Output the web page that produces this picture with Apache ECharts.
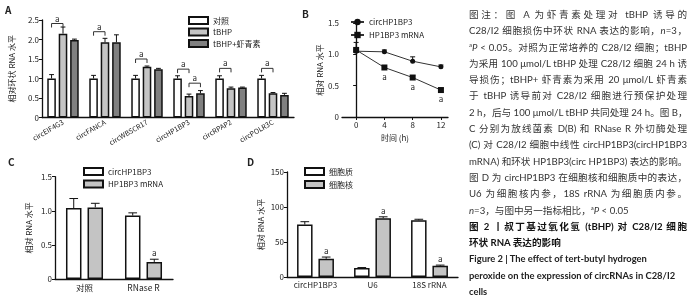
<!DOCTYPE html>
<html lang="zh">
<head>
<meta charset="utf-8">
<script src="https://cdn.jsdelivr.net/npm/echarts@6/dist/echarts.min.js"></script>
<style>
  html, body { margin: 0; padding: 0; background: #fff; }
  #wrap { position: relative; width: 692px; height: 300px; overflow: hidden; }
  #chart { position: absolute; left: 0; top: 0; width: 692px; height: 300px; }
  .cap { position: absolute; left: 469px; top: 7px; width: 218px; font-family: Lato, "Noto Sans CJK SC", sans-serif;
         font-size: 9.6px; line-height: 16.3px; color: #333; }
  .cap div { white-space: nowrap; }
  .cap .j { text-align: justify; text-align-last: justify; }
  .cap .t { color: #111; font-weight: bold; }
  .cap .e { color: #222; font-weight: bold; font-size: 9.4px; }
  .cap sup { font-size: 6px; line-height: 0; vertical-align: 4px; }
</style>
</head>
<body>
<div id="wrap">
  <div id="chart"></div>
  <div class="cap" lang="zh">
    <div class="j">图注：图 A 为虾青素处理对 tBHP 诱导的</div>
    <div class="j">C28/I2 细胞损伤中环状 RNA 表达的影响，<i>n</i>=3，</div>
    <div class="j"><sup>a</sup><i>P</i> &lt; 0.05。对照为正常培养的 C28/I2 细胞；tBHP</div>
    <div class="j">为采用 100 μmol/L tBHP 处理 C28/I2 细胞 24 h 诱</div>
    <div class="j">导损伤；tBHP+ 虾青素为采用 20 μmol/L 虾青素</div>
    <div class="j">于 tBHP 诱导前对 C28/I2 细胞进行预保护处理</div>
    <div class="j">2 h，后与 100 μmol/L tBHP 共同处理 24 h。图 B，</div>
    <div class="j">C 分别为放线菌素 D(B) 和 RNase R 外切酶处理</div>
    <div class="j">(C) 对 C28/I2 细胞中线性 circHP1BP3(circHP1BP3</div>
    <div class="j">mRNA) 和环状 HP1BP3(circ HP1BP3) 表达的影响。</div>
    <div class="j">图 D 为 circHP1BP3 在细胞核和细胞质中的表达，</div>
    <div class="j">U6 为细胞核内参，18S rRNA 为细胞质内参。</div>
    <div><i>n</i>=3，与图中另一指标相比，<sup>a</sup><i>P</i> &lt; 0.05</div>
    <div class="j t">图 2 丨叔丁基过氧化氢 (tBHP) 对 C28/I2 细胞</div>
    <div class="t">环状 RNA 表达的影响</div>
    <div class="e">Figure 2 | The effect of tert-butyl hydrogen</div>
    <div class="e">peroxide on the expression of circRNAs in C28/I2</div>
    <div class="e">cells</div>
  </div>
</div>
<script>
// panel A
const catsA = ['circEIF4G3', 'circFANCA', 'circWBSCR17', 'circHP1BP3', 'circRPAP2', 'circPOLR3C'];
const ctrlA = [1.0, 1.0, 1.0, 1.0, 1.0, 1.0];
const ctrlErrA = [0.10, 0.08, 0.08, 0.07, 0.07, 0.08];
const tbhpA = [2.15, 1.93, 1.30, 0.55, 0.75, 0.62];
const tbhpErrA = [0.17, 0.10, 0.02, 0.05, 0.03, 0.02];
const astaA = [1.99, 1.93, 1.24, 0.62, 0.77, 0.58];
const astaErrA = [0.02, 0.19, 0.02, 0.07, 0.01, 0.04];
// [category, from bar, to bar, height]
const bracketsA = [[0, 0, 1, 2.41], [1, 0, 1, 2.2], [2, 0, 1, 1.5], [3, 0, 1, 1.24], [3, 1, 2, 0.88], [4, 0, 1, 1.26], [5, 0, 1, 1.26]];

// panel B
const timeB = [0, 4, 8, 12];
const circB = [1.05, 1.04, 0.89, 0.80];
const circErrB = [0.03, 0.03, 0.07, 0.03];
const mrnaB = [1.07, 0.79, 0.63, 0.43];
const mrnaErrB = [0.12, 0.03, 0.03, 0.03];
const sigB = [false, true, true, true];

// panel C
const catsC = ['对照', 'RNase R'];
const circC = [1.04, 0.93];
const circErrC = [0.14, 0.04];
const mrnaC = [1.05, 0.25];
const mrnaErrC = [0.06, 0.04];
const sigC = [false, true];

// panel D
const catsD = ['circHP1BP3', 'U6', '18S rRNA'];
const cytoD = [75, 13, 81];
const cytoErrD = [4, 0.5, 1.5];
const nucD = [26, 84, 16];
const nucErrD = [2.5, 2, 1];
const sigD = [true, true, true];

const FONT = '"Noto Sans CJK SC", "Liberation Sans", sans-serif';
const INK = '#111';

const chart = echarts.init(document.getElementById('chart'), null, { renderer: 'canvas' });

function valAxis(grid, max, interval, name, gap) {
  return {
    type: 'value', gridIndex: grid, min: 0, max: max, interval: interval,
    name: name, nameLocation: 'middle', nameRotate: 90, nameGap: gap,
    nameTextStyle: { fontSize: 8, color: '#222', fontFamily: FONT },
    axisLine: { show: true, lineStyle: { color: INK, width: 1.3 } },
    axisTick: { show: true, length: 3, lineStyle: { color: INK, width: 1 } },
    axisLabel: { fontSize: 8, color: '#222', margin: 3, fontFamily: FONT,
      formatter: v => (v === 0 ? '0' : (interval < 1 ? v.toFixed(1) : String(v))) },
    splitLine: { show: false }
  };
}

function catAxis(grid, cats, extra) {
  return Object.assign({
    type: 'category', gridIndex: grid, data: cats,
    axisLine: { lineStyle: { color: INK, width: 1.3 } },
    axisTick: { alignWithLabel: true, length: 3, lineStyle: { color: INK } },
    axisLabel: { fontSize: 8, color: '#222', margin: 4, fontFamily: FONT, interval: 0 },
    splitLine: { show: false }
  }, extra || {});
}

// error bar (+ optional "a") drawn over grouped bars
function errSeries(name, grid, vals, errs, sigs, idx, n, barW, gapPx) {
  return {
    type: 'custom', name: name + '_err', xAxisIndex: grid, yAxisIndex: grid, z: 5, clip: false,
    data: vals.map((v, i) => [i, v, errs[i], sigs && sigs[i] ? 1 : 0]),
    encode: { x: 0, y: 1 },
    renderItem: function (params, api) {
      const base = api.coord([api.value(0), api.value(1)]);
      const top = api.coord([api.value(0), api.value(1) + api.value(2)]);
      const x = base[0] + (idx - (n - 1) / 2) * (barW + gapPx);
      const cap = Math.max(2, barW * 0.28);
      const kids = [
        { type: 'line', shape: { x1: x, y1: base[1], x2: x, y2: top[1] }, style: { stroke: INK, lineWidth: 1 } },
        { type: 'line', shape: { x1: x - cap, y1: top[1], x2: x + cap, y2: top[1] }, style: { stroke: INK, lineWidth: 1 } }
      ];
      if (api.value(3)) {
        kids.push({ type: 'text', x: x, y: top[1] - 2,
          style: { text: 'a', fill: '#222', font: '8px ' + FONT, align: 'center', verticalAlign: 'bottom' } });
      }
      return { type: 'group', children: kids };
    }
  };
}

function barSeries(name, grid, vals, color, barW, gap) {
  return {
    type: 'bar', name: name, xAxisIndex: grid, yAxisIndex: grid, data: vals,
    barWidth: barW, barGap: gap,
    itemStyle: { color: color, borderColor: INK, borderWidth: 1.5 }
  };
}

const BW_A = 8.6, GAP_A = 0.33;
const BW_C = 15.5, GAP_C = 0.39;
const BW_D = 15.5, GAP_D = 0.38;
const WHITE = '#ffffff', LIGHT = '#c4c4c4', DARK = '#808080';

const bracketSeries = {
  type: 'custom', name: 'bracketsA', xAxisIndex: 0, yAxisIndex: 0, z: 6, clip: false,
  data: bracketsA, encode: { x: 0, y: 3 },
  renderItem: function (params, api) {
    const p = api.coord([api.value(0), api.value(3)]);
    const step = BW_A * (1 + GAP_A);
    const x1 = p[0] + (api.value(1) - 1) * step;
    const x2 = p[0] + (api.value(2) - 1) * step;
    const leg = 4;
    return { type: 'group', children: [
      { type: 'polyline', shape: { points: [[x1, p[1] + leg], [x1, p[1]], [x2, p[1]], [x2, p[1] + leg]] },
        style: { stroke: '#333', lineWidth: 1, fill: null } },
      { type: 'text', x: (x1 + x2) / 2, y: p[1] - 1,
        style: { text: 'a', fill: '#222', font: '8px ' + FONT, align: 'center', verticalAlign: 'bottom' } }
    ] };
  }
};

const lineStyleB = { color: '#333', width: 1 };

const option = {
  animation: false,
  textStyle: { fontFamily: FONT },
  grid: [
    { left: 42, top: 20, width: 252, height: 97.5 },
    { left: 342, top: 23, width: 106, height: 94 },
    { left: 55, top: 176.7, width: 118, height: 102.3 },
    { left: 287, top: 172, width: 171, height: 105 }
  ],
  xAxis: [
    catAxis(0, catsA, { axisLabel: { fontSize: 7, color: '#222', margin: 4, rotate: 30, interval: 0, fontFamily: FONT } }),
    {
      type: 'value', gridIndex: 1, min: -2, max: 13,
      name: '时间 (h)', nameLocation: 'middle', nameGap: 17,
      nameTextStyle: { fontSize: 8, color: '#222', fontFamily: FONT },
      axisLine: { lineStyle: { color: INK, width: 1.3 } },
      axisTick: { length: 3, customValues: timeB, lineStyle: { color: INK } },
      axisLabel: { fontSize: 8, color: '#222', margin: 4, customValues: timeB, fontFamily: FONT },
      splitLine: { show: false }
    },
    catAxis(2, catsC, { axisLabel: { fontSize: 8.5, color: '#222', margin: 5, interval: 0, fontFamily: FONT } }),
    catAxis(3, catsD, { axisLabel: { fontSize: 8, color: '#222', margin: 4, interval: 0, fontFamily: FONT } })
  ],
  yAxis: [
    valAxis(0, 2.5, 0.5, '相对环状 RNA 水平', 26),
    valAxis(1, 1.5, 0.5, '相对 RNA 水平', 18),
    valAxis(2, 1.5, 0.5, '相对 RNA 水平', 22),
    valAxis(3, 150, 50, '相对 RNA 水平', 22)
  ],
  legend: [
    { left: 183, top: 11, orient: 'vertical', icon: 'rect', itemWidth: 19, itemHeight: 7, itemGap: 2.5,
      textStyle: { fontSize: 8, color: '#222', fontFamily: FONT }, data: ['对照', 'tBHP', 'tBHP+虾青素'] },
    { left: 345, top: 13, orient: 'vertical', itemWidth: 13, itemHeight: 8, itemGap: 5,
      textStyle: { fontSize: 8, color: '#222', fontFamily: FONT }, data: ['circHP1BP3', 'HP1BP3 mRNA'] },
    { left: 78, top: 162, orient: 'vertical', icon: 'rect', itemWidth: 19, itemHeight: 7, itemGap: 3.5,
      textStyle: { fontSize: 8, color: '#222', fontFamily: FONT }, data: ['C:circHP1BP3', 'C:HP1BP3 mRNA'],
      formatter: n => n.replace('C:', '') },
    { left: 299, top: 162, orient: 'vertical', icon: 'rect', itemWidth: 19, itemHeight: 7, itemGap: 4,
      textStyle: { fontSize: 8, color: '#222', fontFamily: FONT }, data: ['细胞质', '细胞核'] }
  ],
  graphic: [
    { type: 'text', left: 5, top: 5, style: { text: 'A', font: 'bold 10px ' + FONT, fill: '#222' } },
    { type: 'text', left: 302, top: 9, style: { text: 'B', font: 'bold 10px ' + FONT, fill: '#222' } },
    { type: 'text', left: 8, top: 157, style: { text: 'C', font: 'bold 10px ' + FONT, fill: '#222' } },
    { type: 'text', left: 247, top: 157, style: { text: 'D', font: 'bold 10px ' + FONT, fill: '#222' } }
  ],
  series: [
    // A
    barSeries('对照', 0, ctrlA, WHITE, BW_A, (GAP_A * 100) + '%'),
    barSeries('tBHP', 0, tbhpA, LIGHT, BW_A, (GAP_A * 100) + '%'),
    barSeries('tBHP+虾青素', 0, astaA, DARK, BW_A, (GAP_A * 100) + '%'),
    errSeries('对照', 0, ctrlA, ctrlErrA, null, 0, 3, BW_A, BW_A * GAP_A),
    errSeries('tBHP', 0, tbhpA, tbhpErrA, null, 1, 3, BW_A, BW_A * GAP_A),
    errSeries('tBHP+虾青素', 0, astaA, astaErrA, null, 2, 3, BW_A, BW_A * GAP_A),
    bracketSeries,
    // B
    {
      type: 'line', name: 'circHP1BP3', xAxisIndex: 1, yAxisIndex: 1,
      data: circB.map((v, i) => [timeB[i], v]),
      symbol: 'circle', symbolSize: 5, lineStyle: lineStyleB, itemStyle: { color: INK }
    },
    {
      type: 'line', name: 'HP1BP3 mRNA', xAxisIndex: 1, yAxisIndex: 1,
      data: mrnaB.map((v, i) => ({ value: [timeB[i], v],
        label: { show: sigB[i], position: 'bottom', distance: 2, formatter: 'a', fontSize: 8, color: '#222', fontFamily: FONT } })),
      symbol: 'rect', symbolSize: 6, lineStyle: lineStyleB, itemStyle: { color: INK }
    },
    {
      type: 'custom', name: 'errB', xAxisIndex: 1, yAxisIndex: 1, z: 5, clip: false,
      data: circB.map((v, i) => [timeB[i], v, circErrB[i]]).concat(mrnaB.map((v, i) => [timeB[i], v, mrnaErrB[i]])),
      encode: { x: 0, y: 1 },
      renderItem: function (params, api) {
        const b = api.coord([api.value(0), api.value(1)]);
        const t = api.coord([api.value(0), api.value(1) + api.value(2)]);
        return { type: 'group', children: [
          { type: 'line', shape: { x1: b[0], y1: b[1], x2: b[0], y2: t[1] }, style: { stroke: INK, lineWidth: 1 } },
          { type: 'line', shape: { x1: b[0] - 2.5, y1: t[1], x2: b[0] + 2.5, y2: t[1] }, style: { stroke: INK, lineWidth: 1 } }
        ] };
      }
    },
    // C
    barSeries('C:circHP1BP3', 2, circC, WHITE, BW_C, (GAP_C * 100) + '%'),
    barSeries('C:HP1BP3 mRNA', 2, mrnaC, LIGHT, BW_C, (GAP_C * 100) + '%'),
    errSeries('C:circHP1BP3', 2, circC, circErrC, null, 0, 2, BW_C, BW_C * GAP_C),
    errSeries('C:HP1BP3 mRNA', 2, mrnaC, mrnaErrC, sigC, 1, 2, BW_C, BW_C * GAP_C),
    // D
    barSeries('细胞质', 3, cytoD, WHITE, BW_D, (GAP_D * 100) + '%'),
    barSeries('细胞核', 3, nucD, LIGHT, BW_D, (GAP_D * 100) + '%'),
    errSeries('细胞质', 3, cytoD, cytoErrD, null, 0, 2, BW_D, BW_D * GAP_D),
    errSeries('细胞核', 3, nucD, nucErrD, sigD, 1, 2, BW_D, BW_D * GAP_D)
  ]
};

chart.setOption(option);
</script>
</body>
</html>
